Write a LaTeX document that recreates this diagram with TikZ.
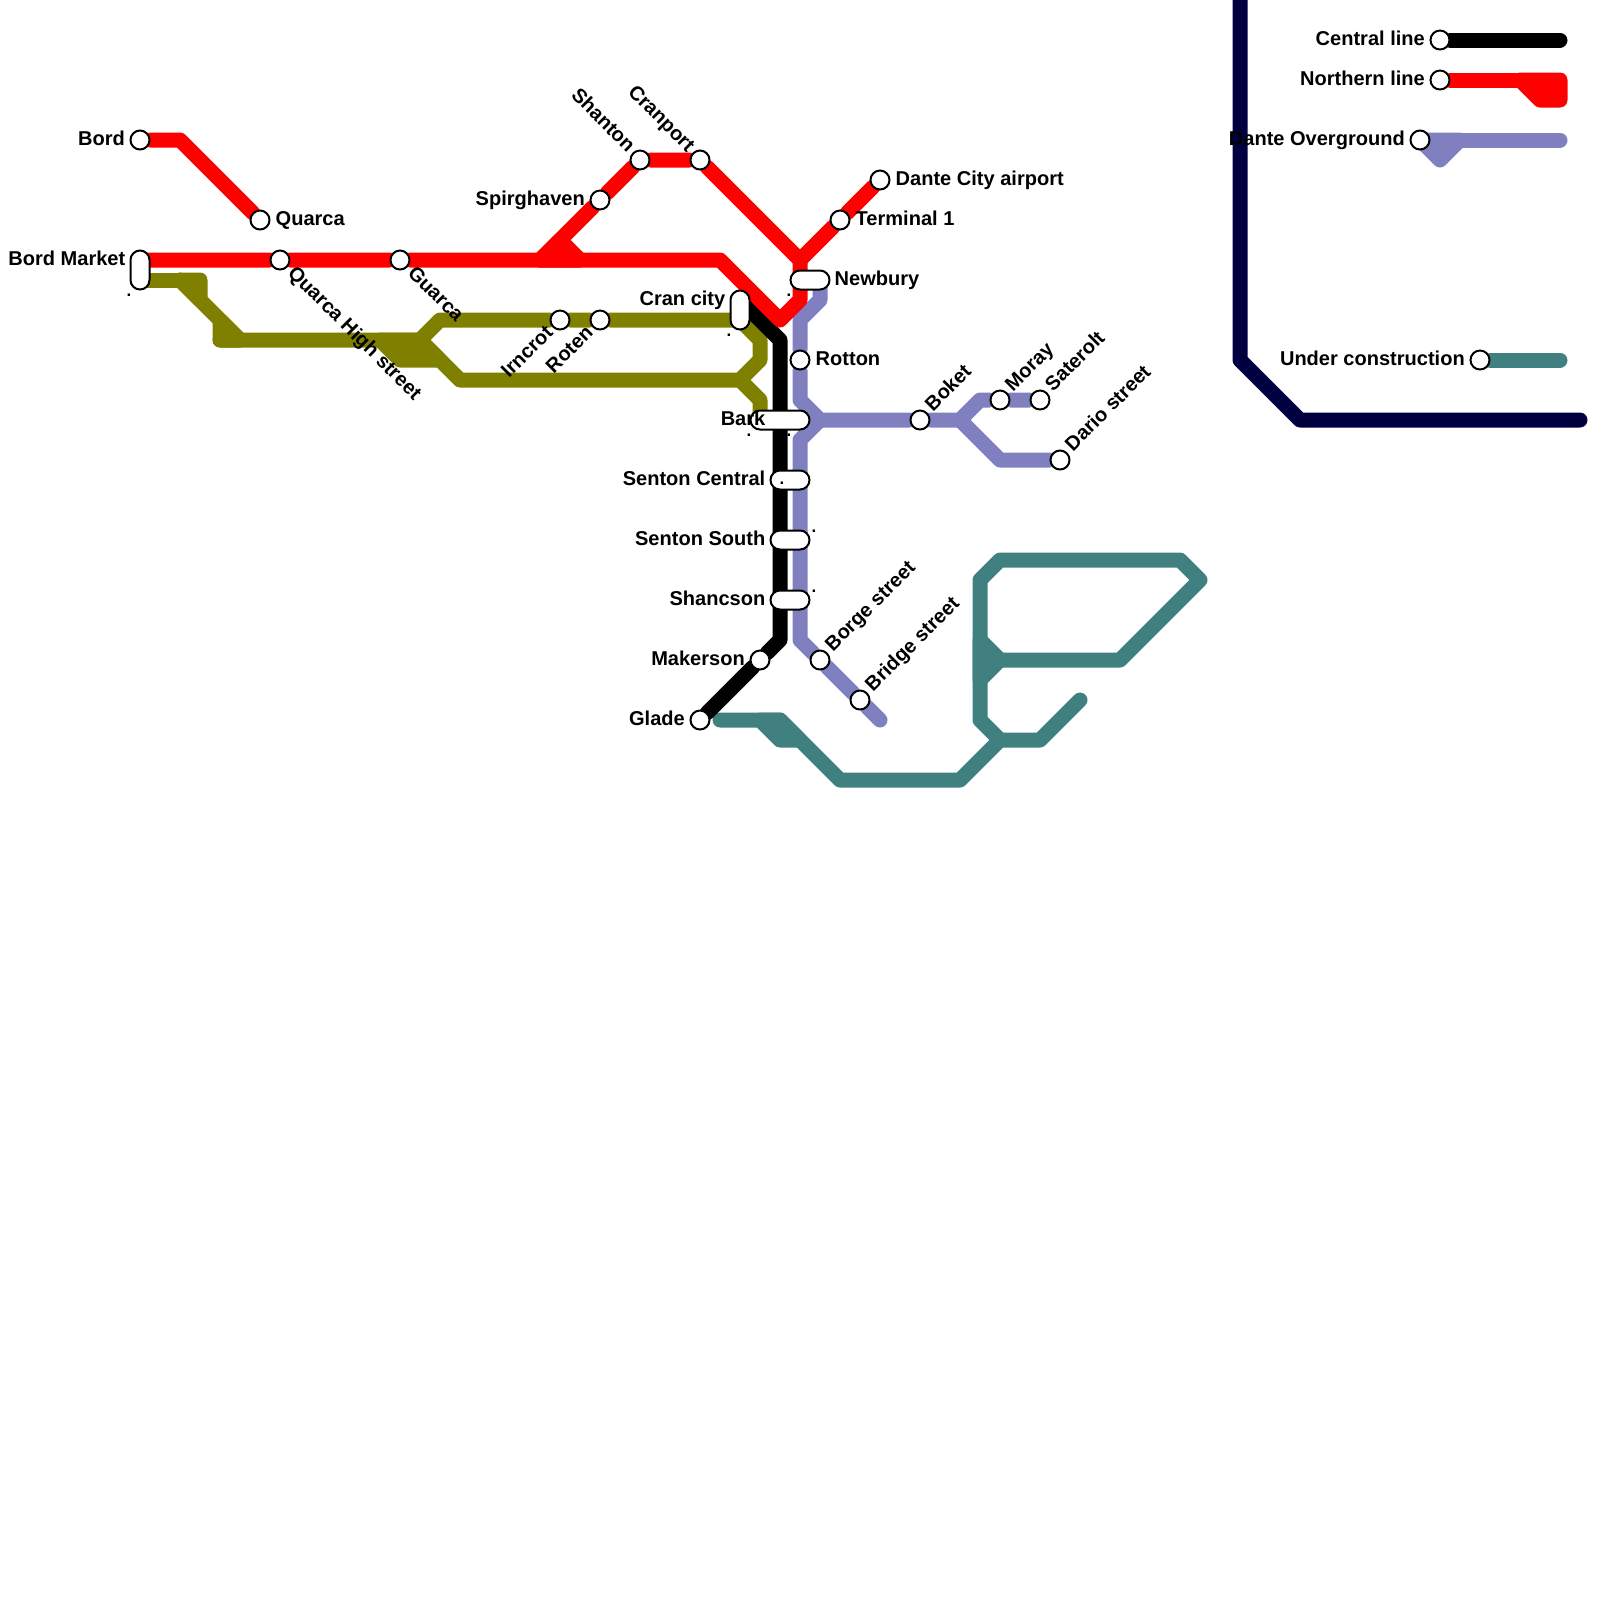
\documentclass[tikz,border=0pt]{standalone}
\usepackage{xcolor}
\usepackage{fontspec}
\setmainfont{Liberation Sans}
\usetikzlibrary{positioning,backgrounds}
\definecolor{oliveline}{HTML}{808000}
\definecolor{purpleline}{HTML}{8080C0}
\definecolor{tealline}{HTML}{408080}
\definecolor{navyline}{HTML}{000040}
\tikzset{
	metro/.style={line width=0.15cm,line cap=round,line join=round},
	stn/.style={circle,draw,fill=white,line width=0.02cm,minimum size=0.19cm,inner sep=0pt},
	pillh/.style={rectangle,draw,fill=white,line width=0.02cm,rounded corners=0.095cm,minimum width=0.39cm,minimum height=0.19cm,inner sep=0pt},
	pillv/.style={rectangle,draw,fill=white,line width=0.02cm,rounded corners=0.095cm,minimum width=0.19cm,minimum height=0.39cm,inner sep=0pt},
	lbl/.style={inner sep=0pt,text height=0.14cm,text depth=0.04cm,font=\fontsize{5.7}{6}\selectfont\bfseries},
	dotlbl/.style={inner sep=0pt,anchor=base,font=\fontsize{4.8}{5}\selectfont\bfseries},
}
\begin{document}
\begin{tikzpicture}[x=0.2cm,y=-0.2cm]
	\useasboundingbox (0,0) rectangle (80,80);

	% stations
	\node[stn] (bord) at (7,7) {};
	\node[stn] (quarca) at (13,11) {};
	\node[pillv] (bordmarket) at (7,13.5) {};
	\node[stn] (quarcahigh) at (14,13) {};
	\node[stn] (guarca) at (20,13) {};
	\node[stn] (spirghaven) at (30,10) {};
	\node[stn] (shanton) at (32,8) {};
	\node[stn] (cranport) at (35,8) {};
	\node[stn] (airport) at (44,9) {};
	\node[stn] (terminal) at (42,11) {};
	\node[pillh] (newbury) at (40.5,14) {};
	\node[pillv] (crancity) at (37,15.5) {};
	\node[stn] (irncrot) at (28,16) {};
	\node[stn] (roten) at (30,16) {};
	\node[stn] (rotton) at (40,18) {};
	\node[pillh,minimum width=0.59cm] (bark) at (39,21) {};
	\node[pillh] (sentonc) at (39.5,24) {};
	\node[pillh] (sentons) at (39.5,27) {};
	\node[pillh] (shancson) at (39.5,30) {};
	\node[stn] (makerson) at (38,33) {};
	\node[stn] (glade) at (35,36) {};
	\node[stn] (borge) at (41,33) {};
	\node[stn] (bridge) at (43,35) {};
	\node[stn] (boket) at (46,21) {};
	\node[stn] (moray) at (50,20) {};
	\node[stn] (saterolt) at (52,20) {};
	\node[stn] (dario) at (53,23) {};
	\node[stn] (keycentral) at (72,2) {};
	\node[stn] (keynorthern) at (72,4) {};
	\node[stn] (keydante) at (71,7) {};
	\node[stn] (keyunder) at (74,18) {};

	% labels
	\node[lbl,left=0.04cm of bord] (bordlbl) {Bord};
	\node[lbl,right=0.045cm of quarca] (quarcalbl) {Quarca};
	\node[lbl,anchor=east] (bordmarketlbl) at (6.3,13) {Bord Market};
	\node[lbl,rotate=-45,anchor=west] (quarcahighlbl) at (14.5,13.5) {Quarca High street};
	\node[lbl,rotate=-45,anchor=west] (guarcalbl) at (20.5,13.5) {Guarca};
	\node[lbl,left=0.04cm of spirghaven] (spirghavenlbl) {Spirghaven};
	\node[lbl,rotate=-45,anchor=east] (shantonlbl) at (31.55,7.5) {Shanton};
	\node[lbl,rotate=-45,anchor=east] (cranportlbl) at (34.55,7.5) {Cranport};
	\node[lbl,right=0.045cm of airport] (airportlbl) {Dante City airport};
	\node[lbl,right=0.045cm of terminal] (terminallbl) {Terminal 1};
	\node[lbl,anchor=west] (newburylbl) at (41.7,14) {Newbury};
	\node[lbl,anchor=east] (crancitylbl) at (36.3,15) {Cran city};
	\node[lbl,rotate=45,anchor=east] (irncrotlbl) at (27.55,16.5) {Irncrot};
	\node[lbl,rotate=45,anchor=east] (rotenlbl) at (29.55,16.5) {Roten};
	\node[lbl,right=0.045cm of rotton] (rottonlbl) {Rotton};
	\node[lbl,rotate=45,anchor=west] (boketlbl) at (46.45,20.45) {Boket};
	\node[lbl,rotate=45,anchor=west] (moraylbl) at (50.45,19.45) {Moray};
	\node[lbl,rotate=45,anchor=west] (saterotlbl) at (52.45,19.45) {Saterolt};
	\node[lbl,rotate=45,anchor=west] (dariolbl) at (53.45,22.45) {Dario street};
	\node[lbl,anchor=east] (barklbl) at (38.3,21) {Bark};
	\node[lbl,anchor=east] (sentonclbl) at (38.3,24) {Senton Central};
	\node[lbl,anchor=east] (sentonslbl) at (38.3,27) {Senton South};
	\node[lbl,anchor=east] (shancsonlbl) at (38.3,30) {Shancson};
	\node[lbl,left=0.04cm of makerson] (makersonlbl) {Makerson};
	\node[lbl,left=0.04cm of glade] (gladelbl) {Glade};
	\node[lbl,rotate=45,anchor=west] (borgelbl) at (41.45,32.45) {Borge street};
	\node[lbl,rotate=45,anchor=west] (bridgelbl) at (43.45,34.45) {Bridge street};
	\node[lbl,left=0.04cm of keycentral] (keycentrallbl) {Central line};
	\node[lbl,left=0.04cm of keynorthern] (keynorthernlbl) {Northern line};
	\node[lbl,left=0.04cm of keydante] (keydantelbl) {Dante Overground};
	\node[lbl,left=0.04cm of keyunder] (keyunderlbl) {Under construction};

	% stray dots
	\node[dotlbl] (dot1) at (6.45,14.8) {.};
	\node[dotlbl] (dot2) at (36.45,16.8) {.};
	\node[dotlbl] (dot3) at (39.45,14.8) {.};
	\node[dotlbl] (dot4) at (37.45,21.8) {.};
	\node[dotlbl] (dot5) at (39.45,21.8) {.};
	\node[dotlbl] (dot6) at (39.1,24.2) {.};
	\node[dotlbl] (dot7) at (40.7,26.6) {.};
	\node[dotlbl] (dot8) at (40.7,29.6) {.};

	% bends
	\coordinate (r1) at (9,7);
	\coordinate (r2) at (27,13);
	\coordinate (r3) at (28,12);
	\coordinate (r4) at (29,13);
	\coordinate (r5) at (40,13);
	\coordinate (r6) at (40,15);
	\coordinate (r7) at (39,16);
	\coordinate (r8) at (36,13);
	\coordinate (bordmarket1) at (7,13);
	\coordinate (bordmarket2) at (7,14);
	\coordinate (crancity1) at (37,15);
	\coordinate (crancity2) at (37,16);
	\coordinate (newbury2) at (41,14);
	\coordinate (bark1) at (38,21);
	\coordinate (o1) at (10,14);
	\coordinate (o2) at (10,15);
	\coordinate (o3) at (9,14);
	\coordinate (o4) at (12,17);
	\coordinate (o5) at (11,16);
	\coordinate (o6) at (11,17);
	\coordinate (o7) at (21,17);
	\coordinate (o8) at (22,16);
	\coordinate (o9) at (38,17);
	\coordinate (o10) at (38,18);
	\coordinate (o11) at (37,19);
	\coordinate (o12) at (23,19);
	\coordinate (o13) at (38,20);
	\coordinate (o14) at (19,17);
	\coordinate (o15) at (20,18);
	\coordinate (o16) at (22,18);
	\coordinate (c1) at (39,17);
	\coordinate (c2) at (39,32);
	\coordinate (p1) at (41,15);
	\coordinate (p2) at (40,16);
	\coordinate (p3) at (40,20);
	\coordinate (p4) at (41,21);
	\coordinate (p5) at (48,21);
	\coordinate (p6) at (49,20);
	\coordinate (p7) at (50,23);
	\coordinate (p8) at (40,22);
	\coordinate (p9) at (40,32);
	\coordinate (p10) at (44,36);
	\coordinate (t1) at (36,36);
	\coordinate (t2) at (38,36);
	\coordinate (t3) at (39,37);
	\coordinate (t4) at (40,37);
	\coordinate (t5) at (39,36);
	\coordinate (t6) at (42,39);
	\coordinate (t7) at (48,39);
	\coordinate (t8) at (50,37);
	\coordinate (t9) at (52,37);
	\coordinate (t10) at (54,35);
	\coordinate (t11) at (49,36);
	\coordinate (t12) at (49,29);
	\coordinate (t13) at (50,28);
	\coordinate (t14) at (59,28);
	\coordinate (t15) at (60,29);
	\coordinate (t16) at (56,33);
	\coordinate (t17) at (50,33);
	\coordinate (t18) at (49,32);
	\coordinate (t19) at (49,34);
	\coordinate (n1) at (62,-1);
	\coordinate (n2) at (62,18);
	\coordinate (n3) at (65,21);
	\coordinate (n4) at (79,21);
	\coordinate (keycentral2) at (78,2);
	\coordinate (keynorthern2) at (78,4);
	\coordinate (keynorthern3) at (76,4);
	\coordinate (keynorthern4) at (77,5);
	\coordinate (keynorthern5) at (78,5);
	\coordinate (keydante2) at (78,7);
	\coordinate (keydante3) at (72,8);
	\coordinate (keydante4) at (73,7);
	\coordinate (keyunder2) at (78,18);

	\begin{scope}[on background layer]
		\draw[metro,navyline] (n1) -- (n2) -- (n3) -- (n4);

		\draw[metro,tealline] (t1) -- (t5) -- (t6) -- (t7) -- (t8) -- (t9) -- (t10);
		\draw[metro,tealline,fill=tealline] (t2) -- (t3) -- (t4) -- (t5) -- cycle;
		\draw[metro,tealline] (t8) -- (t11) -- (t12) -- (t13) -- (t14) -- (t15) -- (t16) -- (t17);
		\draw[metro,tealline,fill=tealline] (t17) -- (t18) -- (t19) -- cycle;
		\draw[metro,tealline] (keyunder) -- (keyunder2);

		\draw[metro,oliveline,fill=oliveline] (o3) -- (o1) -- (o2) -- cycle;
		\draw[metro,oliveline] (bordmarket2) -- (o3);
		\draw[metro,oliveline] (o3) -- (o4);
		\draw[metro,oliveline,fill=oliveline] (o5) -- (o6) -- (o4) -- cycle;
		\draw[metro,oliveline] (o6) -- (o7) -- (o8) -- (irncrot) -- (roten) -- (crancity2) -- (o9) -- (o10) -- (o11) -- (o12) -- (o7);
		\draw[metro,oliveline] (o11) -- (o13) -- (bark1);
		\draw[metro,oliveline,fill=oliveline] (o14) -- (o15) -- (o16) -- (o7) -- cycle;

		\draw[metro,purpleline] (newbury2) -- (p1) -- (p2) -- (rotton) -- (p3) -- (p4) -- (boket) -- (p5) -- (p6) -- (moray) -- (saterolt);
		\draw[metro,purpleline] (p5) -- (p7) -- (dario);
		\draw[metro,purpleline] (p4) -- (p8) -- (p9) -- (borge) -- (bridge) -- (p10);
		\draw[metro,purpleline,fill=purpleline] (keydante.center) -- (keydante3) -- (keydante4) -- cycle;
		\draw[metro,purpleline] (keydante) -- (keydante2);

		\draw[metro,black] (crancity1) -- (c1) -- (c2) -- (makerson) -- (glade);
		\draw[metro,black] (keycentral) -- (keycentral2);

		\draw[metro,red] (bord) -- (r1) -- (quarca);
		\draw[metro,red] (bordmarket1) -- (quarcahigh) -- (guarca) -- (r8) -- (r7) -- (r6) -- (r5);
		\draw[metro,red] (r2) -- (spirghaven) -- (shanton) -- (cranport) -- (r5) -- (terminal) -- (airport);
		\draw[metro,red,fill=red] (r2) -- (r3) -- (r4) -- cycle;
		\draw[metro,red] (keynorthern) -- (keynorthern3);
		\draw[metro,red,fill=red] (keynorthern3) -- (keynorthern2) -- (keynorthern5) -- (keynorthern4) -- cycle;
	\end{scope}

\end{tikzpicture}
\end{document}
